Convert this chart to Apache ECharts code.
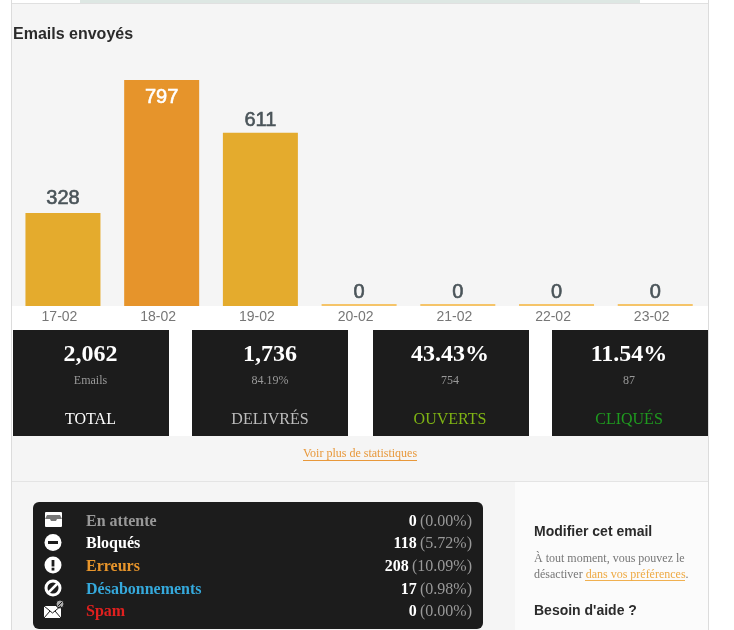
<!DOCTYPE html>
<html><head><meta charset="utf-8">
<style>html,body{margin:0;padding:0;background:#fff}#c{width:734px;height:630px}</style>
<script src="https://cdn.jsdelivr.net/npm/echarts@6/dist/echarts.min.js"></script>
</head><body><div id="c"></div>
<script>
const categories = ['17-02','18-02','19-02','20-02','21-02','22-02','23-02'];
const sentValues = [328,797,611,0,0,0,0];
const statValues = ['2,062','1,736','43.43%','11.54%'];
const statSubs = ['Emails','84.19%','754','87'];
const statNames = ['TOTAL','DELIVRÉS','OUVERTS','CLIQUÉS'];
const statColors = ['#ffffff','#bdbdbd','#7fb414','#1f9a1f'];
const rowNames = ['En attente','Bloqués','Erreurs','Désabonnements','Spam'];
const rowColors = ['#999999','#ffffff','#e8952b','#35a9dc','#e0201f'];
const rowCounts = ['0','118','208','17','0'];
const rowShares = ['(0.00%)','(5.72%)','(10.09%)','(0.98%)','(0.00%)'];

const SERIF='"Liberation Serif","Times New Roman",serif', SANS='"Liberation Sans",Arial,sans-serif';
const DARK='#1c1c1c';
const rect=(x,y,w,h,fill,r)=>({type:'rect',z:0,silent:true,shape:{x,y,width:w,height:h,r:r||0},style:{fill}});
const text=(x,y,t,font,fill,align)=>({type:'text',z:5,silent:true,x,y,style:{text:t,font,fill,align:align||'left',verticalAlign:'middle'}});
const g=[];
// page frame
g.push(rect(11,4,698,626,'#f5f5f5'));
g.push(rect(80,0,560,3,'#dde7e3'));
g.push(rect(11,3,698,1,'#e0e0e0'));
g.push(rect(11,0,1,630,'#dcdcdc'));
g.push(rect(708,0,1,630,'#dcdcdc'));
g.push(rect(12,306,696,130,'#ffffff'));
g.push(rect(12,481,696,1,'#e4e4e4'));
g.push(rect(515,482,193,148,'#fbfbfb'));
g.push(text(13,35,'Emails envoyés','bold 16px '+SANS,'#2b2b2b'));
// stat boxes
const boxX=[13,192,373,552], boxC=[90.5,270,450,629];
statValues.forEach((v,i)=>{
  g.push(rect(boxX[i],330,156,106,DARK));
  g.push(text(boxC[i],355,v,'bold 24px '+SERIF,'#ffffff','center'));
  g.push(text(boxC[i],381,statSubs[i],'12px '+SERIF,'#999999','center'));
  g.push(text(boxC[i],420,statNames[i],'16px '+SERIF,statColors[i],'center'));
});
g.push(text(360,454,'Voir plus de statistiques','12px '+SERIF,'#e8983a','center'));
g.push(rect(303,460,114,1,'#e8983a'));
// table
g.push(rect(33,502,450,127,DARK,6));
const rowY=[522,544,567,590,612];
rowNames.forEach((n,i)=>{
  g.push(text(86,rowY[i],n,'bold 16px '+SERIF,rowColors[i]));
  g.push({type:'text',z:5,silent:true,x:472,y:rowY[i],style:{
    text:'{a|'+rowCounts[i]+'} {b|'+rowShares[i]+'}',align:'right',verticalAlign:'middle',
    rich:{a:{font:'bold 16px '+SERIF,fill:'#ffffff',color:'#ffffff'},b:{font:'16px '+SERIF,fill:'#999999',color:'#999999'}}}});
});
// icons
const W='#ffffff';
const circ=(cx,cy,r,fill,st,lw)=>({type:'circle',z:4,silent:true,shape:{cx,cy,r},style:{fill:fill||'none',stroke:st||null,lineWidth:lw||0}});
const ln=(x1,y1,x2,y2,st,lw)=>({type:'line',z:5,silent:true,shape:{x1,y1,x2,y2},style:{stroke:st,lineWidth:lw}});
// inbox
g.push(rect(45,512,17,15,W,1)); g[g.length-1].z=4;
g.push({type:'polygon',z:5,silent:true,shape:{points:[[47,515],[60,515],[62,519],[57,519],[56,521],[51,521],[50,519],[45,519]]},style:{fill:'#777777'}});
// blocked
g.push(circ(53,542.5,8.5,W));
g.push(rect(48,541,10,3,DARK)); g[g.length-1].z=5;
// error
g.push(circ(53,565,8.5,W));
g.push(rect(51.6,560,2.8,6.5,DARK)); g[g.length-1].z=5;
g.push(rect(51.6,567.7,2.8,2.8,DARK)); g[g.length-1].z=5;
// unsubscribed
g.push(circ(53,588,7,'none',W,3));
g.push(ln(48.5,592.5,57.5,583.5,W,2.5));
// spam envelope
g.push(rect(44,606,17,12,W)); g[g.length-1].z=4;
g.push({type:'polyline',z:5,silent:true,shape:{points:[[44,606],[52.5,613],[61,606]]},style:{stroke:DARK,lineWidth:1,fill:'none'}});
g.push({type:'polyline',z:5,silent:true,shape:{points:[[44,618],[50,611]]},style:{stroke:DARK,lineWidth:1,fill:'none'}});
g.push({type:'polyline',z:5,silent:true,shape:{points:[[61,618],[55,611]]},style:{stroke:DARK,lineWidth:1,fill:'none'}});
g.push(circ(60,604,4,'#aaaaaa',DARK,1));
g.push(ln(58,606,62,602,DARK,1));
// right column
g.push(text(534,532,'Modifier cet email','bold 14px '+SANS,'#2b2b2b'));
g.push(text(534,559,'À tout moment, vous pouvez le','12px '+SERIF,'#777777'));
g.push({type:'text',z:5,silent:true,x:534,y:575,style:{text:'{a|désactiver }{b|dans vos préférences}{a|.}',verticalAlign:'middle',align:'left',
  rich:{a:{font:'12px '+SERIF,fill:'#777777',color:'#777777'},b:{font:'12px '+SERIF,fill:'#eeaa44',color:'#eeaa44'}}}});
g.push(rect(585,580,100,1,'#f0b050'));
g.push(text(534,611,"Besoin d'aide ?",'bold 14px '+SANS,'#2b2b2b'));

const chart=echarts.init(document.getElementById('c'),null,{renderer:'canvas'});
chart.setOption({
  animation:false,
  backgroundColor:'#ffffff',
  graphic:{elements:g},
  grid:{left:13.6,top:80,width:691,height:226,containLabel:false},
  xAxis:{type:'category',data:categories,z:3,axisLine:{show:false},axisTick:{show:false},
    axisLabel:{color:'#777777',fontFamily:SANS,fontSize:14,margin:4,padding:[0,7,0,0]}},
  yAxis:{type:'value',min:0,max:797,show:false,splitLine:{show:false}},
  series:[{type:'bar',barWidth:75,barMinHeight:2,z:3,
    data:sentValues.map((v,i)=>({value:v,
      itemStyle:{color:v===0?'#f5c469':(i===1?'#e6942b':'#e4ab2d')},
      label:i===1?{position:'insideTop',color:'#ffffff',distance:7,textBorderColor:'#ffffff'}:(i===0?{distance:5}:{})})),
    label:{show:true,position:'top',distance:2,color:'#4a5459',fontFamily:SANS,fontSize:20,fontWeight:'normal',
      textBorderColor:'#4a5459',textBorderWidth:0.6}}]
});
</script></body></html>
